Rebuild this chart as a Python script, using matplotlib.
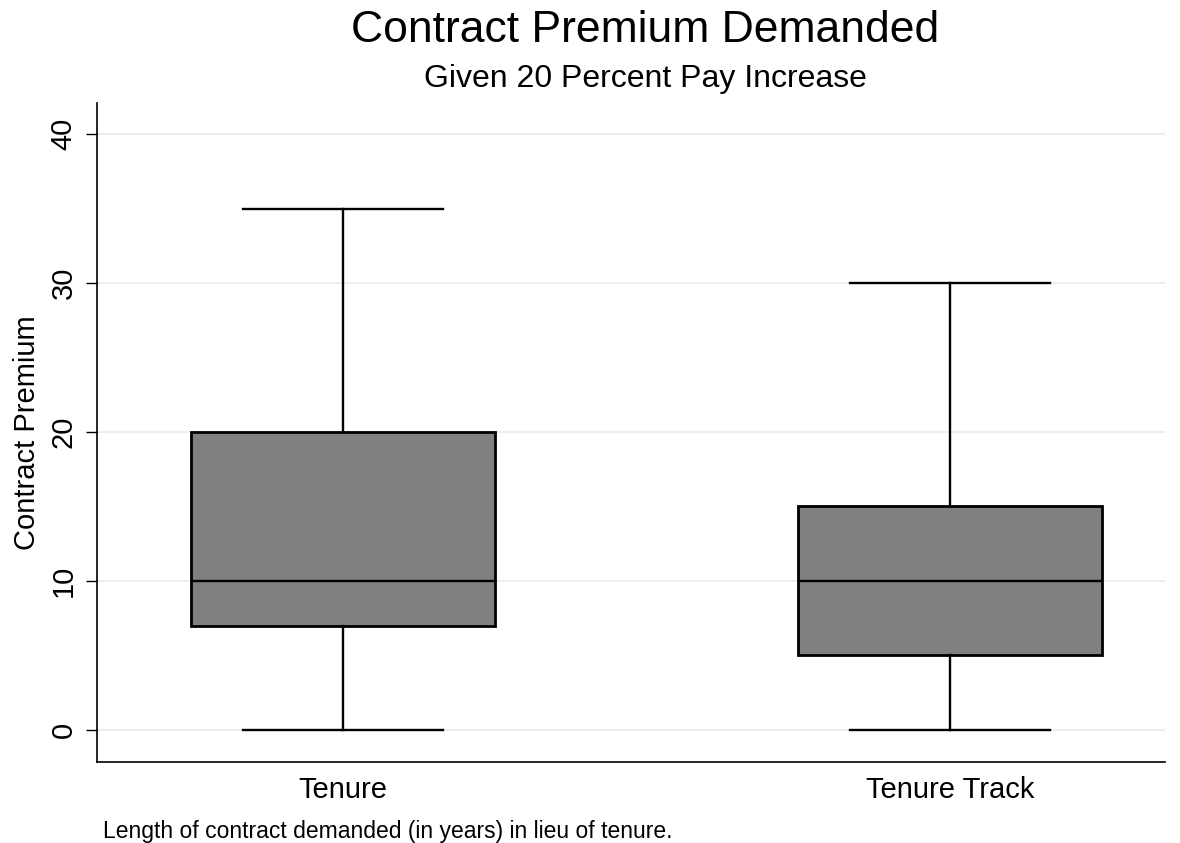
import matplotlib.pyplot as plt

plt.rcParams["font.family"] = ["Liberation Sans", "DejaVu Sans"]

groups = ["Tenure", "Tenure Track"]
whisker_low = [0, 0]
q1 = [7, 5]
median = [10, 10]
q3 = [20, 15]
whisker_high = [35, 30]
y_ticks = [0, 10, 20, 30, 40]


def main():
    fig = plt.figure(figsize=(11.8, 8.43), dpi=100)
    ax = fig.add_axes([0.0822, 0.0961, 0.905, 0.782])

    stats = []
    for name, lo, a, m, b, hi in zip(groups, whisker_low, q1, median, q3, whisker_high):
        stats.append({"label": name, "whislo": lo, "q1": a, "med": m, "q3": b,
                      "whishi": hi, "fliers": []})

    ax.bxp(stats, positions=[1, 2], widths=0.5, patch_artist=True,
           showfliers=False,
           boxprops=dict(facecolor="#808080", edgecolor="black", linewidth=2.0),
           medianprops=dict(color="black", linewidth=1.7),
           whiskerprops=dict(color="black", linewidth=1.7),
           capprops=dict(color="black", linewidth=1.7),
           capwidths=0.33, zorder=3)

    ax.set_xlim(0.595, 2.354)
    ax.set_ylim(-2.15, 42.1)
    ax.set_yticks(y_ticks)
    ax.set_yticklabels([str(v) for v in y_ticks], rotation=90, va="center", fontsize=21)
    ax.tick_params(axis="y", length=8, width=1.0, pad=6)
    ax.tick_params(axis="x", length=0, labelsize=21, pad=10)
    ax.grid(axis="y", color="#e8f0f2", linewidth=1.5, zorder=0)
    ax.set_axisbelow(True)

    for s in ["top", "right"]:
        ax.spines[s].set_visible(False)
    ax.spines["left"].set_linewidth(1.2)
    ax.spines["bottom"].set_linewidth(1.2)

    ax.set_ylabel("Contract Premium", fontsize=21, labelpad=6)

    fig.text(0.547, 0.964, "Contract Premium Demanded", ha="center", va="center", fontsize=32)
    fig.text(0.547, 0.906, "Given 20 Percent Pay Increase", ha="center", va="center", fontsize=23)
    fig.text(0.087, 0.014, "Length of contract demanded (in years) in lieu of tenure.",
             ha="left", va="center", fontsize=16.5)

    fig.savefig("out.png", dpi=100)


if __name__ == "__main__":
    main()
